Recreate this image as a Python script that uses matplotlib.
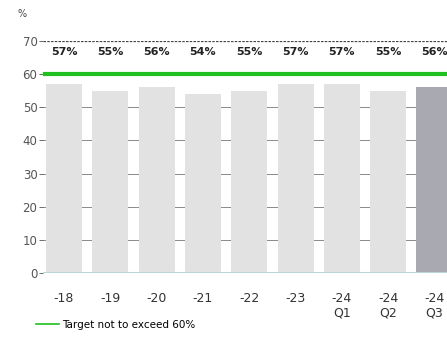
import numpy as np
import matplotlib.pyplot as plt

categories = ['-18', '-19', '-20', '-21', '-22', '-23', '-24\nQ1', '-24\nQ2', '-24\nQ3']
values = [57, 55, 56, 54, 55, 57, 57, 55, 56]
target = 60
legend_label = 'Target not to exceed 60%'

fig = plt.figure(figsize=(4.47, 3.47), dpi=100)
ax = fig.add_axes([43 / 447, 74 / 347, 404 / 447, 232 / 347])

x = np.arange(len(categories))
colors = ['#e2e2e2'] * (len(values) - 1) + ['#a9a9b1']
for yv in range(10, 70, 10):
    ax.axhline(yv, color='#777777', lw=0.6, zorder=1)
ax.bar(x, values, width=0.78, color=colors, zorder=2)
ax.axhline(0, color='#bcd6d8', lw=1.5, zorder=3)
ax.axhline(70, color='#444444', lw=0.9, ls=(0, (2, 1)), zorder=3)
tline = ax.axhline(target, color='#1fc01f', lw=3, zorder=4)

for xi, v in zip(x, values):
    ax.text(xi, 66.6, f'{v}%', ha='center', va='center', fontsize=8,
            fontweight='bold', color='#222222')

ax.set_xlim(-0.454, 8.27)
ax.set_ylim(0, 70)
ax.set_yticks(range(0, 80, 10))
ax.set_xticks(x)
ax.set_xticklabels(categories, fontsize=9, color='#333333', linespacing=1.1)
ax.tick_params(axis='y', labelsize=8.5, colors='#555555', length=3, width=0.6, pad=1)
ax.tick_params(axis='x', length=0, pad=14)
for s in ax.spines.values():
    s.set_visible(False)

fig.text(18 / 447, 1 - 14 / 347, '%', fontsize=7, color='#444444', ha='left', va='center')
leg = fig.legend([tline], [legend_label], loc='center left', bbox_to_anchor=(36 / 447, 22 / 347),
                 frameon=False, fontsize=7.5, handlelength=2.2, handletextpad=0.3,
                 borderaxespad=0, borderpad=0)
for lh in leg.get_lines():
    lh.set_linewidth(1.2)

fig.savefig('out.png', dpi=100)
